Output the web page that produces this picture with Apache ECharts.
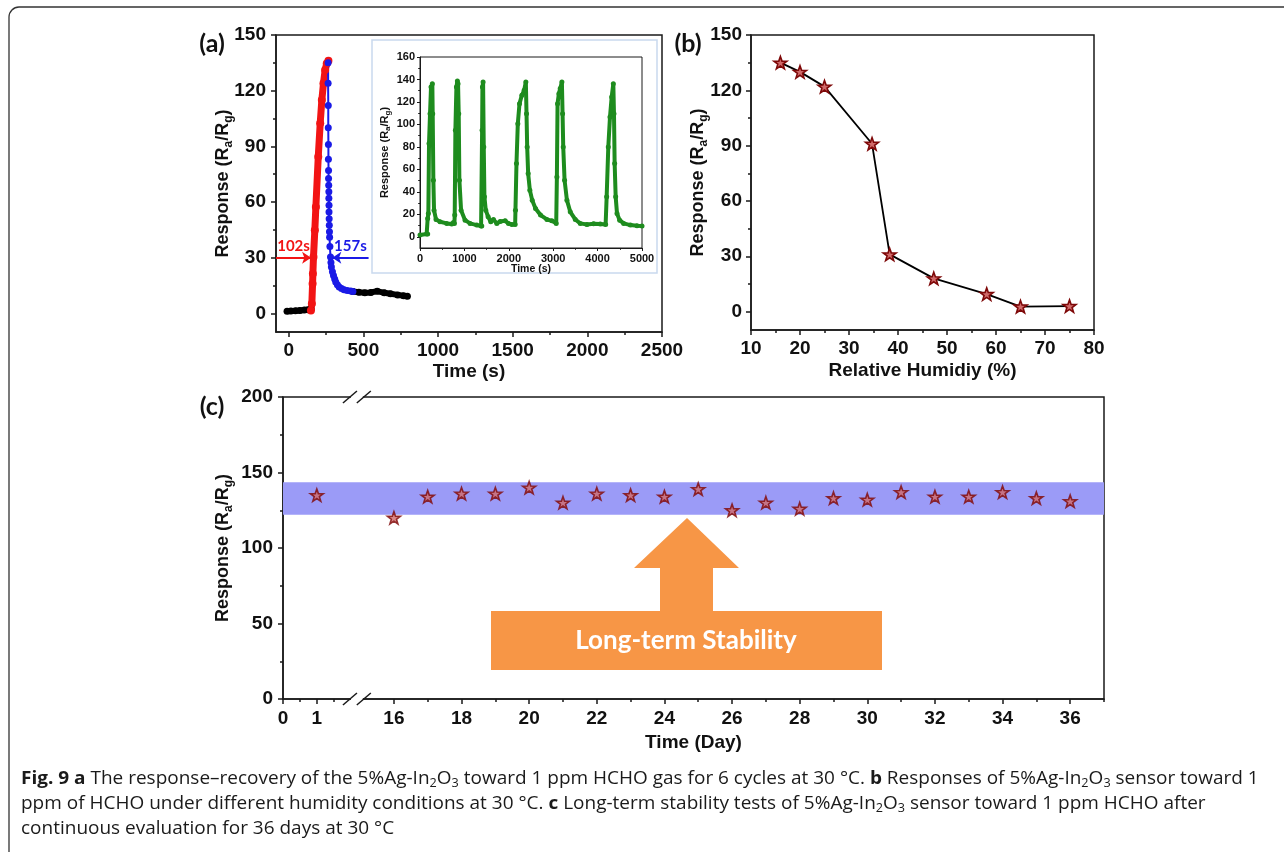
<!DOCTYPE html>
<html>
<head>
<meta charset="utf-8">
<title>Fig. 9</title>
<script src="https://cdn.jsdelivr.net/npm/echarts@6/dist/echarts.min.js"></script>
<style>
  html, body { margin: 0; padding: 0; background: #fff; }
  #main { width: 1284px; height: 852px; }
</style>
</head>
<body>
<div id="main"></div>
<script>
// ---- (a) single response/recovery cycle
var preT  = [-11, 15, 45, 75, 105, 130, 149];
var preR  = [1.2, 1.3, 1.4, 1.6, 1.8, 2.0, 2.1];
var riseT = [149, 155, 160, 162, 166, 175, 182, 198, 211, 222, 233, 244, 255, 266];
var riseR = [1.6, 5.2, 16, 21.4, 30.4, 44.8, 57.4, 84.4, 102.4, 115, 124, 131.1, 134.7, 136.1];
var recT  = [264, 264, 265, 265, 266, 266, 267, 267, 268, 269, 269, 270, 270, 271, 272, 273, 274, 276, 280, 283, 286, 293, 300, 308, 315, 326, 338, 354, 371, 392, 415, 430];
var recR  = [135, 124, 112, 100, 91, 83, 77, 72.7, 69, 65.5, 62, 58.3, 54.7, 51, 47.5, 44, 41, 36, 30.4, 27.5, 25, 22.5, 20.5, 18.5, 17, 15.5, 14.2, 13.4, 12.8, 12.4, 12.1, 11.8];
var postT = [430, 470, 510, 550, 593, 640, 682, 730, 770, 795];
var postR = [11.8, 11.4, 11.1, 11.3, 12, 11.1, 10.6, 10, 9.5, 9.2];
var respArrow = [-85, 150];   // 102s arrow (time range) at half response
var recArrow  = [292, 535];   // 157s arrow
var arrowLevel = 30;
var arrowLabels = ['102s', '157s'];

// ---- inset: 6 cycles
var insetTime = [0, 150, 173, 173, 188, 203, 226, 248, 278, 286, 301, 316, 361, 451, 602, 714, 752,
  775, 782, 797, 820, 842, 857, 872, 887, 925, 1015, 1128, 1278, 1376,
  1391, 1399, 1406, 1421, 1436, 1451, 1481, 1534, 1594, 1654, 1730, 1805, 1918, 1993, 2068, 2143,
  2150, 2173, 2203, 2241, 2294, 2346, 2384, 2399, 2414, 2436, 2474, 2527, 2602, 2715, 2858, 2970, 3068,
  3083, 3098, 3128, 3158, 3196, 3211, 3226, 3256, 3309, 3384, 3497, 3610, 3760, 3910, 4060, 4181,
  4204, 4241, 4279, 4317, 4354, 4369, 4384, 4407, 4437, 4497, 4587, 4738, 4888, 5000];
var insetResp = [1.5, 2.4, 2.4, 16.3, 20.7, 83, 109.6, 133.3, 136.3, 109.6, 50.4, 23.7, 15.4, 13.3, 11.9, 11.3, 12.7,
  11.9, 19.3, 94.8, 133.3, 138.7, 136.3, 109.6, 50.4, 23.7, 14.8, 11.9, 10.4, 9.5,
  9.5, 94.8, 133.3, 137.8, 80, 35.6, 23.7, 17.8, 13.3, 15.4, 11.9, 13.6, 14.2, 11.9, 11.0, 11.0,
  23.7, 65.2, 100.7, 118.5, 125.9, 130.4, 137.8, 109.6, 80, 56.3, 41.5, 32.6, 25.2, 19.3, 15.4, 14.2, 11.9,
  53.3, 118.5, 127.4, 131.9, 137.8, 109.6, 80, 50.4, 32.6, 22.2, 15.4, 11.9, 11.0, 11.6, 11.3, 11.0,
  35.6, 80, 106.7, 124.4, 136.3, 109.6, 65.2, 35.6, 20.7, 14.8, 11.9, 10.4, 9.8, 9.5];

// ---- (b) humidity
var humidity = [16, 20, 25, 34.7, 38.3, 47.3, 58.1, 65, 75];
var humResp  = [135, 130, 122, 91, 31, 18, 9.5, 2.7, 3];

// ---- (c) long-term stability
var days      = [1, 16, 17, 18, 19, 20, 21, 22, 23, 24, 25, 26, 27, 28, 29, 30, 31, 32, 33, 34, 35, 36];
var stability = [135, 120, 134, 136, 136, 140, 130, 136, 135, 134, 139, 125, 130, 126, 133, 132, 137, 134, 134, 137, 133, 131];
var band = [122, 143.5];

// ---- ticks
var aXTicks = [0, 500, 1000, 1500, 2000, 2500];
var aXMinor = [250, 750, 1250, 1750, 2250];
var aYTicks = [0, 30, 60, 90, 120, 150];
var aYMinor = [15, 45, 75, 105, 135];
var inXTicks = [0, 1000, 2000, 3000, 4000, 5000];
var inXMinor = [500, 1500, 2500, 3500, 4500];
var inYTicks = [0, 20, 40, 60, 80, 100, 120, 140, 160];
var inYMinor = [10, 30, 50, 70, 90, 110, 130, 150];
var bXTicks = [10, 20, 30, 40, 50, 60, 70, 80];
var bXMinor = [15, 25, 35, 45, 55, 65, 75];
var cYTicks = [0, 50, 100, 150, 200];
var cYMinor = [25, 75, 125, 175];
var cXTicks = [0, 1, 16, 18, 20, 22, 24, 26, 28, 30, 32, 34, 36];
var cXMinor = [0.5, 1.5, 17, 19, 21, 23, 25, 27, 29, 31, 33, 35, 37];

// broken day axis: days >= 16 are shifted left
var breakShift = 12.72;
function dayPos(d) { return d < 2 ? d : d - breakShift; }
function posDay(v) { return v < 2 ? v : Math.round(v + breakShift); }

var AX = '#1a1a1a';
var SANS = "'Liberation Sans', Arial, sans-serif";
var CAL = "Lato, 'Open Sans', sans-serif";
var STAR = 'path://M0,-10L2.35,-3.24L9.51,-3.09L3.8,1.24L5.88,8.09L0,4L-5.88,8.09L-3.8,1.24L-9.51,-3.09L-2.35,-3.24Z';

function zip(a, b) { return a.map(function (v, i) { return [v, b[i]]; }); }
function plain(v) { return String(v); }

function axes(grid, min, max, majors, minors, o) {
    var major = {
        type: 'value', gridIndex: grid, min: min, max: max, position: o.position,
        splitLine: { show: false },
        axisLine: { show: true, onZero: false, lineStyle: { color: AX, width: o.lw } },
        axisTick: { show: true, length: o.tick, customValues: majors, lineStyle: { color: AX, width: o.lw } },
        axisLabel: {
            show: true, customValues: majors, margin: o.margin, color: '#111',
            fontFamily: SANS, fontWeight: 'bold', fontSize: o.fs, formatter: o.formatter || plain
        },
        name: o.name, nameLocation: 'middle', nameGap: o.nameGap, nameRotate: o.rotate,
        nameMoveOverlap: false,
        nameTextStyle: o.nameStyle
    };
    var minor = {
        type: 'value', gridIndex: grid, min: min, max: max, position: o.position,
        splitLine: { show: false },
        axisLine: { show: false, onZero: false },
        axisTick: { show: true, length: o.tick * 0.6, customValues: minors, lineStyle: { color: AX, width: o.lw } },
        axisLabel: { show: false }
    };
    return [major, minor];
}

function nameStyle(fs, sub, lh) {
    return {
        fontFamily: SANS, fontWeight: 'bold', fontSize: fs, color: '#111', lineHeight: lh,
        rich: { sub: { fontFamily: SANS, fontWeight: 'bold', fontSize: sub, verticalAlign: 'bottom', lineHeight: sub + 1 } }
    };
}
var respName = 'Response (R{sub|a}/R{sub|g})';

var xA = axes(0, -85, 2500, aXTicks, aXMinor, { position: 'bottom', lw: 1.5, tick: 5, margin: 9, fs: 19,
    name: 'Time (s)', nameGap: 29, nameStyle: nameStyle(19, 13, 22) });
var yA = axes(0, -10, 150, aYTicks, aYMinor, { position: 'left', lw: 1.5, tick: 5, margin: 10, fs: 19,
    name: respName, nameGap: 41, rotate: 90, nameStyle: nameStyle(18, 12, 24) });
var xI = axes(1, 0, 5000, inXTicks, inXMinor, { position: 'bottom', lw: 1, tick: 3, margin: 5, fs: 11,
    name: 'Time (s)', nameGap: 15, nameStyle: nameStyle(10.5, 8, 12) });
var yI = axes(1, -10, 160, inYTicks, inYMinor, { position: 'left', lw: 1, tick: 3, margin: 5, fs: 11,
    name: respName, nameGap: 28, rotate: 90, nameStyle: nameStyle(11, 8, 14) });
var xB = axes(2, 10, 80, bXTicks, bXMinor, { position: 'bottom', lw: 1.5, tick: 5, margin: 9, fs: 19,
    name: 'Relative Humidiy (%)', nameGap: 30, nameStyle: nameStyle(19, 13, 22) });
var yB = axes(2, -10, 150, aYTicks, aYMinor, { position: 'left', lw: 1.5, tick: 5, margin: 9, fs: 19,
    name: respName, nameGap: 41, rotate: 90, nameStyle: nameStyle(18, 12, 24) });
var xC = axes(3, 0, 37 - breakShift, cXTicks.map(dayPos), cXMinor.map(dayPos), { position: 'bottom', lw: 1.5, tick: 5, margin: 10, fs: 19,
    name: 'Time (Day)', nameGap: 33, nameStyle: nameStyle(19, 13, 22), formatter: function (v) { return String(posDay(v)); } });
var yC = axes(3, 0, 200, cYTicks, cYMinor, { position: 'left', lw: 1.5, tick: 5, margin: 10, fs: 19,
    name: respName, nameGap: 48, rotate: 90, nameStyle: nameStyle(18, 12, 24) });

function gridBox(l, t, w, h, bw) {
    return { left: l, top: t, width: w, height: h, show: true, borderColor: AX, borderWidth: bw, backgroundColor: 'transparent' };
}

function arrowLine(color, from, to, label, startArrow) {
    return {
        silent: true, animation: false, precision: 2,
        symbol: startArrow ? ['arrow', 'none'] : ['none', 'arrow'], symbolSize: 9,
        lineStyle: { color: color, width: 2, type: 'solid' },
        label: { show: true, formatter: label, position: 'insideMiddleTop', distance: 4, color: color,
                 fontFamily: CAL, fontWeight: 'bold', fontSize: 15 },
        emphasis: { disabled: true },
        data: [[{ coord: [from, arrowLevel] }, { coord: [to, arrowLevel] }]]
    };
}

var starStyle = { color: '#d06a6a', borderColor: '#7e0808', borderWidth: 1.6 };

var caption = [
    '{b|Fig. 9 a} The response–recovery of the 5%Ag-In{s|2}O{s|3} toward 1 ppm HCHO gas for 6 cycles at 30 °C. {b|b} Responses of 5%Ag-In{s|2}O{s|3} sensor toward 1',
    'ppm of HCHO under different humidity conditions at 30 °C. {b|c} Long-term stability tests of 5%Ag-In{s|2}O{s|3} sensor toward 1 ppm HCHO after',
    'continuous evaluation for 36 days at 30 °C'
];

var graphics = [
    { type: 'rect', id: 'frame', z: -10, shape: { x: 9, y: 7, width: 1400, height: 1000, r: 10 },
      style: { fill: 'none', stroke: '#333', lineWidth: 1.3 } },
    { type: 'rect', id: 'insetBox', z: -1, shape: { x: 372, y: 40, width: 285, height: 233 },
      style: { fill: '#fff', stroke: '#c9d9ee', lineWidth: 1.5 } },
    { type: 'text', id: 'la', x: 212, y: 44, style: { text: '(a)', font: 'bold 25px ' + CAL, fill: '#111', textAlign: 'center', textVerticalAlign: 'middle' } },
    { type: 'text', id: 'lb', x: 688, y: 44, style: { text: '(b)', font: 'bold 25px ' + CAL, fill: '#111', textAlign: 'center', textVerticalAlign: 'middle' } },
    { type: 'text', id: 'lc', x: 212, y: 407, style: { text: '(c)', font: 'bold 25px ' + CAL, fill: '#111', textAlign: 'center', textVerticalAlign: 'middle' } },
    { type: 'polygon', id: 'bigArrow', z: 1,
      shape: { points: [[491, 611], [660, 611], [660, 568], [634, 568], [687, 518], [739, 568], [713, 568], [713, 611], [882, 611], [882, 670], [491, 670]] },
      style: { fill: '#f79646' } },
    { type: 'text', id: 'ltxt', z: 2, x: 686, y: 641, style: { text: 'Long-term Stability', font: 'bold 26px ' + CAL, fill: '#fff', textAlign: 'center', textVerticalAlign: 'middle' } }
];
caption.forEach(function (line, i) {
    graphics.push({
        type: 'text', id: 'cap' + i, x: 21, y: 779 + i * 25, scaleX: 1.055,
        style: {
            text: line, fontFamily: "'Open Sans', sans-serif", fontSize: 18, lineHeight: 22, fill: '#1a1a1a',
            textVerticalAlign: 'middle',
            rich: {
                b: { fontFamily: "'Open Sans', sans-serif", fontWeight: 'bold', fontSize: 18, lineHeight: 22 },
                s: { fontFamily: "'Open Sans', sans-serif", fontSize: 12, verticalAlign: 'bottom', lineHeight: 12 }
            }
        }
    });
});

var option = {
    backgroundColor: '#fff',
    animation: false,
    grid: [gridBox(276, 35, 386, 297, 1.5), gridBox(420, 57, 222, 191, 1), gridBox(751, 35, 343, 295, 1.5), gridBox(283, 397, 821, 302, 1.5)],
    xAxis: [].concat(xA, xI, xB, xC),
    yAxis: [].concat(yA, yI, yB, yC),
    graphic: graphics,
    series: [
        { type: 'line', xAxisIndex: 0, yAxisIndex: 0, data: zip(preT, preR), symbol: 'circle', symbolSize: 7,
          itemStyle: { color: '#000' }, lineStyle: { color: '#000', width: 6 } },
        { type: 'line', xAxisIndex: 0, yAxisIndex: 0, data: zip(postT, postR), symbol: 'circle', symbolSize: 7,
          itemStyle: { color: '#000' }, lineStyle: { color: '#000', width: 6 } },
        { type: 'line', xAxisIndex: 0, yAxisIndex: 0, data: zip(riseT, riseR), symbol: 'circle', symbolSize: 8,
          itemStyle: { color: '#f21414' }, lineStyle: { color: '#f21414', width: 7 },
          markLine: arrowLine('#f21414', respArrow[0], respArrow[1], arrowLabels[0], false) },
        { type: 'line', xAxisIndex: 0, yAxisIndex: 0, data: zip(recT, recR), symbol: 'circle', symbolSize: 7,
          itemStyle: { color: '#1a1ae6' }, lineStyle: { color: '#1a1ae6', width: 2 },
          markLine: arrowLine('#1a1ae6', recArrow[0], recArrow[1], arrowLabels[1], true) },
        { type: 'line', xAxisIndex: 2, yAxisIndex: 2, data: zip(insetTime, insetResp), symbol: 'circle', symbolSize: 5,
          itemStyle: { color: '#1e8c1e' }, lineStyle: { color: '#1e8c1e', width: 4 } },
        { type: 'line', xAxisIndex: 4, yAxisIndex: 4, data: zip(humidity, humResp), symbol: STAR, symbolSize: 13, symbolKeepAspect: true,
          itemStyle: starStyle, lineStyle: { color: '#000', width: 1.8 } },
        { type: 'scatter', xAxisIndex: 6, yAxisIndex: 6, data: zip(days.map(dayPos), stability), symbol: STAR, symbolSize: 13, symbolKeepAspect: true,
          itemStyle: starStyle,
          markArea: { silent: true, itemStyle: { color: '#9b9bf7', opacity: 1 }, data: [[{ yAxis: band[0] }, { yAxis: band[1] }]] } }
    ]
};

var chart = echarts.init(document.getElementById('main'), null, { renderer: 'canvas' });
chart.setOption(option);

// axis break marks on panel (c)
var breakAt = [1.98, 2.39];
var bx = breakAt.map(function (v) { return chart.convertToPixel({ xAxisIndex: 6 }, v); });
var yTop = chart.convertToPixel({ yAxisIndex: 6 }, 200);
var yBot = chart.convertToPixel({ yAxisIndex: 6 }, 0);
var marks = [];
[yTop, yBot].forEach(function (yy, k) {
    marks.push({ type: 'rect', id: 'gap' + k, z: 5, shape: { x: bx[0] + 1, y: yy - 3, width: bx[1] - bx[0] - 2, height: 6 }, style: { fill: '#fff' } });
    bx.forEach(function (xx, j) {
        marks.push({ type: 'line', id: 'sl' + k + j, z: 6, shape: { x1: xx - 7, y1: yy + 6, x2: xx + 7, y2: yy - 6 }, style: { stroke: AX, lineWidth: 1.5 } });
    });
});
chart.setOption({ graphic: marks });
</script>
</body>
</html>
